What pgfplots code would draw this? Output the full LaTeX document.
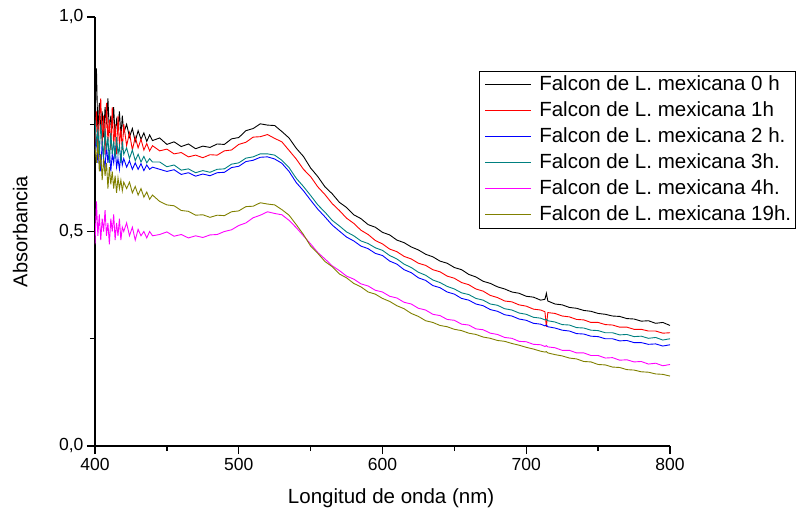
\documentclass[border=0pt]{standalone}
\usepackage{pgfplots}
\pgfplotsset{compat=1.18}
\usepackage{pgfplotstable}
\usepackage{fontspec}
\setmainfont{Liberation Sans}
\definecolor{cteal}{RGB}{0,128,128}
\definecolor{colive}{RGB}{128,128,0}
\definecolor{cmag}{RGB}{255,0,255}

\pgfplotstableread{
x b r bl t m o
400 .76 .70 .68 .76 .47 .70
401 .88 .78 .72 .70 .57 .66
402 .73 .69 .66 .74 .49 .71
403 .80 .76 .70 .68 .54 .64
404 .74 .81 .64 .75 .48 .68
405 .78 .70 .71 .71 .53 .62
406 .72 .77 .67 .67 .50 .67
407 .79 .68 .65 .74 .55 .63
408 .75 .80 .70 .69 .49 .66
409 .81 .71 .66 .72 .52 .60
410 .73 .76 .69 .66 .47 .65
411 .77 .69 .64 .73 .53 .61
412 .74 .79 .68 .68 .50 .64
413 .79 .70 .66 .71 .54 .60
414 .72 .75 .70 .67 .48 .63
415 .76 .68 .65 .72 .52 .59
416 .74 .77 .67 .68 .49 .625
417 .78 .70 .645 .70 .53 .60
418 .72 .74 .68 .66 .48 .62
419 .77 .69 .655 .71 .51 .595
420 .73 .75 .67 .68 .50 .615
422 .75 .70 .65 .695 .52 .60
424 .72 .73 .665 .67 .49 .615
426 .74 .69 .645 .69 .51 .59
428 .71 .72 .66 .665 .48 .605
430 .735 .695 .645 .68 .505 .585
432 .715 .715 .658 .662 .49 .60
434 .73 .69 .642 .675 .50 .58
436 .71 .705 .655 .66 .485 .592
438 .725 .688 .645 .67 .50 .575
440 .712 .70 .65 .662 .49 .585
445 .718 .688 .645 .662 .493 .570
450 .703 .692 .640 .651 .499 .562
455 .709 .681 .644 .655 .489 .560
460 .698 .684 .633 .643 .493 .549
465 .704 .674 .637 .646 .485 .547
470 .693 .678 .629 .637 .490 .538
475 .699 .672 .634 .642 .486 .539
480 .696 .679 .630 .638 .492 .533
485 .704 .678 .637 .645 .493 .538
490 .703 .688 .638 .646 .500 .537
495 .716 .690 .649 .657 .504 .546
500 .719 .703 .652 .660 .514 .548
505 .735 .708 .663 .671 .520 .558
510 .740 .720 .666 .674 .532 .559
515 .751 .721 .673 .681 .538 .567
520 .748 .726 .674 .681 .546 .564
525 .747 .717 .669 .678 .542 .562
530 .733 .709 .659 .666 .539 .551
535 .718 .689 .640 .649 .526 .538
540 .694 .669 .614 .624 .509 .516
545 .675 .645 .595 .605 .490 .493
550 .648 .628 .573 .584 .471 .466
555 .628 .604 .552 .562 .451 .449
560 .604 .586 .534 .545 .436 .430
565 .588 .565 .515 .526 .420 .418
570 .568 .549 .501 .513 .409 .401
575 .556 .531 .487 .499 .396 .392
580 .539 .519 .478 .490 .389 .379
585 .530 .503 .466 .478 .378 .371
590 .516 .493 .460 .472 .373 .359
595 .510 .479 .449 .462 .363 .354
600 .498 .471 .444 .456 .359 .344
605 .492 .459 .431 .444 .349 .337
610 .480 .453 .424 .436 .345 .327
615 .474 .442 .411 .424 .335 .320
620 .464 .436 .404 .416 .331 .309
625 .457 .426 .392 .405 .321 .302
630 .447 .421 .386 .398 .317 .292
635 .441 .411 .374 .387 .307 .288
640 .431 .406 .369 .381 .304 .281
645 .426 .396 .359 .372 .295 .278
650 .416 .391 .354 .366 .293 .272
655 .411 .381 .344 .357 .284 .269
660 .400 .376 .340 .353 .282 .263
665 .394 .366 .331 .344 .273 .260
670 .384 .361 .327 .340 .271 .254
675 .379 .351 .318 .331 .263 .251
680 .371 .346 .314 .328 .260 .246
685 .366 .338 .306 .320 .253 .244
690 .359 .336 .303 .317 .251 .239
695 .356 .329 .296 .310 .244 .235
700 .349 .326 .293 .307 .243 .230
705 .347 .319 .286 .300 .237 .226
710 .340 .317 .284 .298 .236 .221
713 .342 .313 .280 .294 .232 .219
714 .356 .278 .282 .295 .234 .220
715 .338 .311 .278 .292 .231 .217
720 .331 .309 .275 .289 .229 .213
725 .329 .303 .270 .283 .223 .210
730 .323 .301 .268 .282 .223 .205
735 .321 .295 .262 .276 .217 .203
740 .316 .294 .261 .275 .217 .197
745 .314 .288 .256 .270 .211 .196
750 .309 .288 .255 .269 .211 .190
755 .307 .283 .250 .264 .205 .189
760 .303 .282 .250 .264 .206 .184
765 .302 .277 .245 .259 .200 .183
770 .297 .277 .246 .260 .201 .178
775 .296 .272 .241 .255 .196 .177
780 .291 .272 .241 .256 .197 .173
785 .292 .268 .237 .251 .191 .172
790 .286 .268 .238 .253 .193 .168
795 .288 .263 .233 .247 .187 .167
800 .281 .264 .236 .250 .190 .163
}\spectra

\begin{document}
\begin{tikzpicture}
\begin{axis}[
  scale only axis, width=575pt, height=429pt,
  xmin=400, xmax=800, ymin=0, ymax=1,
  axis x line*=bottom, axis y line*=left,
  axis line style={line width=1.3pt, -},
  xtick={400,500,600,700,800},
  xticklabels={400,500,600,700,800},
  minor xtick={450,550,650,750},
  ytick={0,0.5,1},
  yticklabels={{0,0},{0,5},{1,0}},
  minor ytick={0.25,0.75},
  tick align=outside,
  major tick length=8pt, minor tick length=5pt,
  every tick/.style={black, line width=1.3pt},
  tick label style={font=\fontsize{17.5}{21}\selectfont},
  xticklabel style={yshift=-1pt},
  xlabel={Longitud de onda (nm)},
  ylabel={Absorbancia},
  xlabel style={at={(axis description cs:0.515,-0.121)}, anchor=center, font=\fontsize{20.5}{24}\selectfont},
  ylabel style={at={(axis description cs:-0.130,0.5)}, anchor=center, font=\fontsize{20}{24}\selectfont},
  legend cell align=left,
  legend style={at={(rel axis cs:0.668,0.874)}, anchor=north west, draw=black,
    font=\fontsize{20.5}{24}\selectfont, row sep=3pt, inner sep=2pt,
    nodes={inner sep=2pt, text height=15pt, text depth=4pt}},
  legend image code/.code={\draw[#1] (4pt,0pt) -- (50pt,0pt); \path[draw=none] (0pt,0pt) -- (56pt,0pt);},
  every axis plot/.append style={line width=0.9pt},
]
\addplot[black] table[x=x,y=b] {\spectra};
\addlegendentry{Falcon de L. mexicana 0 h}
\addplot[red] table[x=x,y=r] {\spectra};
\addlegendentry{Falcon de L. mexicana 1h}
\addplot[blue] table[x=x,y=bl] {\spectra};
\addlegendentry{Falcon de L. mexicana 2 h.}
\addplot[cteal] table[x=x,y=t] {\spectra};
\addlegendentry{Falcon de L. mexicana 3h.}
\addplot[cmag] table[x=x,y=m] {\spectra};
\addlegendentry{Falcon de L. mexicana 4h.}
\addplot[colive] table[x=x,y=o] {\spectra};
\addlegendentry{Falcon de L. mexicana 19h.}
\coordinate (SW) at (rel axis cs:0,0);
\coordinate (NE) at (rel axis cs:1,1);
\end{axis}
\pgfresetboundingbox
\path ([shift={(-95pt,-66pt)}]SW) rectangle ([shift={(126pt,17pt)}]NE);
\end{tikzpicture}
\end{document}
